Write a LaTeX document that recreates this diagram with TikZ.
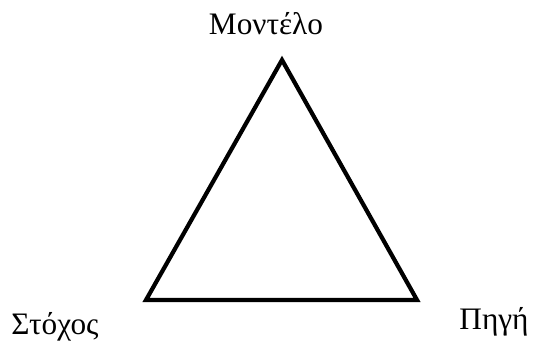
\documentclass[tikz,border=0pt]{standalone}
\usepackage{fontspec}
\setmainfont{Liberation Serif}
\usetikzlibrary{positioning}

\begin{document}
\begin{tikzpicture}[x=0.02cm, y=-0.02cm,
  edge/.style={line width=2.4pt},
  lbl/.style={anchor=base, inner sep=0pt, font=\fontsize{17.8}{21}\selectfont}
]
\useasboundingbox (0,0) rectangle (537,350);
% --- vertices ---
\coordinate (model)  at (282,60);
\coordinate (target) at (146,300);
\coordinate (source) at (417,300);
% --- triangle ---
\draw[edge] (model) -- (source) -- (target) -- cycle;
% --- labels ---
\node[lbl] (modelL)  at (266,35)  {Μοντέλο};
\node[lbl] (targetL) at (55,335)  {Στόχος};
\node[lbl] (sourceL) at (494,330) {Πηγή};
\end{tikzpicture}
\end{document}
